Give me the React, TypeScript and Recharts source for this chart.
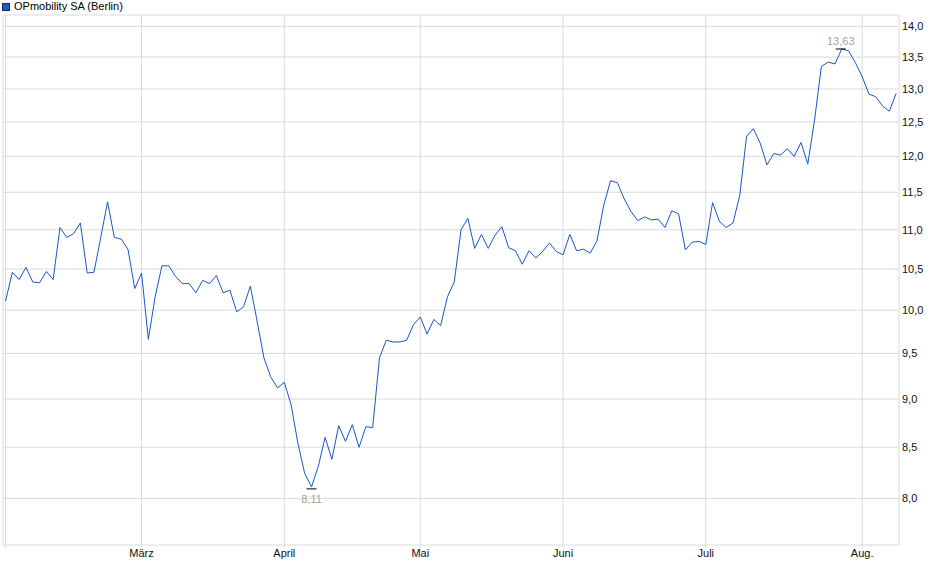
import { LineChart, Line, XAxis, YAxis, CartesianGrid, ReferenceLine } from "recharts";

// closing prices, one per trading day (Feb 3 – Aug 8)
const prices = [
  10.11, 10.46, 10.37, 10.52, 10.34, 10.33, 10.47, 10.37, 11.03, 10.9,
  10.95, 11.09, 10.45, 10.46, 10.9, 11.37, 10.9, 10.88, 10.75, 10.26,
  10.45, 9.66, 10.16, 10.54, 10.54, 10.41, 10.32, 10.32, 10.21, 10.36,
  10.32, 10.42, 10.21, 10.24, 9.98, 10.04, 10.29, 9.87, 9.45, 9.24,
  9.12, 9.18, 8.94, 8.54, 8.24, 8.11, 8.31, 8.6, 8.38, 8.72,
  8.56, 8.73, 8.5, 8.71, 8.7, 9.45, 9.65, 9.63, 9.63, 9.65,
  9.83, 9.92, 9.72, 9.89, 9.82, 10.16, 10.34, 11.0, 11.15, 10.76,
  10.94, 10.76, 10.93, 11.04, 10.77, 10.73, 10.56, 10.73, 10.64, 10.72,
  10.83, 10.72, 10.68, 10.94, 10.73, 10.75, 10.7, 10.86, 11.33, 11.66,
  11.63, 11.41, 11.24, 11.12, 11.17, 11.13, 11.14, 11.03, 11.25, 11.21,
  10.74, 10.84, 10.85, 10.81, 11.36, 11.11, 11.03, 11.09, 11.46, 12.29,
  12.4, 12.19, 11.88, 12.04, 12.02, 12.11, 12.0, 12.2, 11.89, 12.53,
  13.35, 13.42, 13.39, 13.63, 13.6, 13.41, 13.19, 12.92, 12.88, 12.74,
  12.66, 12.93,
];

// first trading day of each month (index into prices)
const monthTicks = [0, 20, 41, 61, 82, 103, 126];
const monthLabels = ["", "März", "April", "Mai", "Juni", "Juli", "Aug."];

const priceTicks = [8, 8.5, 9, 9.5, 10, 10.5, 11, 11.5, 12, 12.5, 13, 13.5, 14];

const data = prices.map((p, i) => ({ i, price: p }));

const minIdx = prices.indexOf(Math.min(...prices));
const maxIdx = prices.indexOf(Math.max(...prices));

const X_DOMAIN: [number, number] = [-0.38, 131.42];
const Y_DOMAIN: [number, number] = [7.57, 14.19];

const GRID = "#dadada";
const FONT = "'Liberation Sans', Arial, sans-serif";
const fmt = (v: number) => v.toFixed(2).replace(".", ",");

const ExtremeDot = (props: any) => {
  const { cx, cy, index } = props;
  if (index === minIdx) {
    return (
      <g key="min">
        <line x1={cx - 5} x2={cx + 5} y1={cy + 2} y2={cy + 2} stroke="#000" strokeWidth={1} />
        <text x={cx} y={cy + 16} textAnchor="middle" fontSize={11} fontFamily={FONT} fill="#ad9f8b">
          {fmt(prices[index])}
        </text>
      </g>
    );
  }
  if (index === maxIdx) {
    return (
      <g key="max">
        <line x1={cx - 6} x2={cx + 4} y1={cy} y2={cy} stroke="#000" strokeWidth={1} />
        <text x={cx - 1} y={cy - 4} textAnchor="middle" fontSize={11} fontFamily={FONT} fill="#99a1b2">
          {fmt(prices[index])}
        </text>
      </g>
    );
  }
  return <g key={`d-${index}`} />;
};

export default function App() {
  return (
    <div style={{ position: "absolute", left: 0, top: 0, width: 940, height: 579, background: "#fff" }}>
      <div
        style={{
          position: "absolute",
          left: 2,
          top: 0,
          fontFamily: FONT,
          fontSize: 11,
          lineHeight: "13px",
          color: "#000",
          display: "flex",
          alignItems: "center",
          gap: 4,
        }}
      >
        <span
          style={{
            display: "inline-block",
            width: 6,
            height: 6,
            background: "#1f56c8",
            border: "1px solid #0d2a6e",
          }}
        />
        <span>OPmobility SA (Berlin)</span>
      </div>
      <LineChart width={940} height={579} data={data} margin={{ top: 15, right: 0, bottom: 0, left: 3 }}>
        <CartesianGrid stroke={GRID} horizontalValues={priceTicks} verticalValues={monthTicks} />
        <XAxis
          type="number"
          dataKey="i"
          domain={X_DOMAIN}
          allowDataOverflow
          ticks={monthTicks}
          tickFormatter={(v: number) => monthLabels[monthTicks.indexOf(v)] ?? ""}
          height={34}
          stroke={GRID}
          tickSize={3}
          tickMargin={1}
          tick={{ fontSize: 11, fontFamily: FONT, fill: "#111" }}
        />
        <YAxis
          orientation="right"
          scale="log"
          domain={Y_DOMAIN}
          allowDataOverflow
          ticks={priceTicks}
          tickFormatter={(v: number) => v.toFixed(1).replace(".", ",")}
          width={41}
          stroke={GRID}
          tickLine={false}
          tickSize={0}
          tickMargin={3}
          tick={{ fontSize: 11, fontFamily: FONT, fill: "#111", textAnchor: "start" }}
        />
        <ReferenceLine x={X_DOMAIN[0]} stroke={GRID} />
        <ReferenceLine y={Y_DOMAIN[1]} stroke={GRID} />
        <Line
          type="linear"
          dataKey="price"
          stroke="#1a56c8"
          strokeWidth={1}
          dot={ExtremeDot}
          activeDot={false}
          isAnimationActive={false}
        />
      </LineChart>
    </div>
  );
}
